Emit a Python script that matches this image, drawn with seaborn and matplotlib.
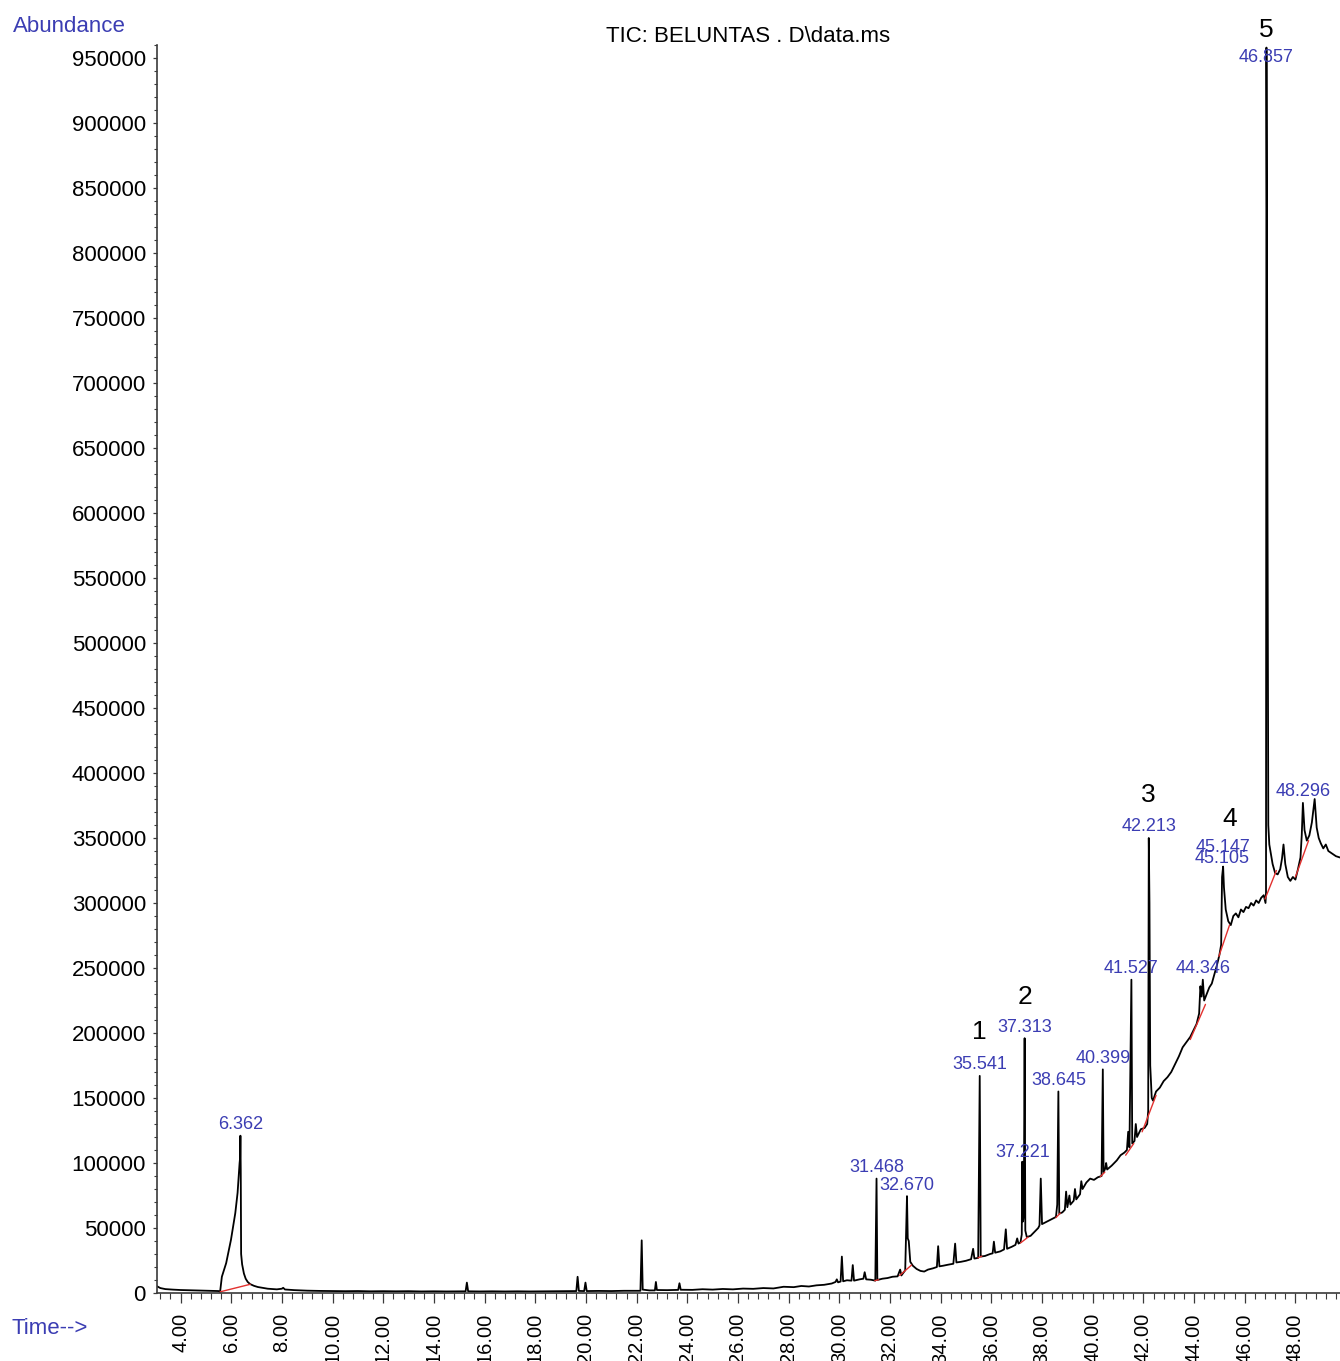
import numpy as np
import pandas as pd
import matplotlib
matplotlib.use("Agg")
import matplotlib.pyplot as plt
from matplotlib.ticker import MultipleLocator, FixedLocator
import seaborn as sns

# ---------------- data, (time min, abundance) ----------------
trace_early = [
    (3.07, 5200), (3.2, 3800), (3.4, 3000), (3.7, 2600), (4.0, 2300), (4.4, 2100),
    (4.8, 1900), (5.2, 1700), (5.5, 1500), (5.56, 900), (5.63, 12500), (5.8, 23000),
    (5.99, 41000), (6.16, 61500), (6.25, 77000), (6.33, 100000), (6.35, 104000),
    (6.362, 121000), (6.375, 95000), (6.39, 30000), (6.43, 22000), (6.5, 15000),
    (6.57, 11000), (6.65, 8500), (6.75, 6800), (6.9, 5500), (7.05, 4600), (7.44, 3300),
    (7.8, 2800), (8.0, 3300), (8.05, 4000), (8.12, 2700), (8.5, 2200), (9.0, 1800),
]
trace_mid = [
    (9.5, 1600), (10.0, 1500), (10.5, 1400), (11.0, 1500), (11.5, 1300), (12.0, 1400),
    (12.5, 1300), (13.0, 1400), (13.5, 1200), (14.0, 1300), (14.5, 1200), (15.0, 1300),
    (15.25, 1300), (15.3, 8000), (15.35, 1300), (15.8, 1200), (16.3, 1300), (16.8, 1200),
    (17.3, 1300), (17.8, 1200), (18.3, 1300), (18.8, 1400), (19.2, 1500), (19.62, 1500),
    (19.67, 12500), (19.72, 1600), (19.93, 1500), (19.98, 8000), (20.03, 1500),
    (20.5, 1600), (21.0, 1500), (21.5, 1700), (22.0, 1700), (22.15, 1700), (22.2, 40500),
    (22.24, 2600), (22.5, 2000), (22.72, 2000), (22.76, 8500), (22.8, 2300), (23.2, 2200),
    (23.64, 2400), (23.69, 7500), (23.74, 2500), (24.2, 2400), (24.6, 2900), (25.0, 2600),
    (25.4, 3100), (25.8, 2800), (26.2, 3400), (26.6, 3200), (27.0, 3800), (27.4, 3500),
    (27.8, 4800),
]
trace_late1 = [
    (28.2, 4500), (28.5, 5400), (28.8, 5000), (29.1, 5900), (29.4, 6300), (29.7, 7300),
    (29.85, 8500), (29.9, 10500), (29.95, 8200), (30.05, 8800), (30.1, 28000),
    (30.15, 9000), (30.3, 9800), (30.48, 9500), (30.53, 21500), (30.58, 9500),
    (30.8, 10500), (30.95, 11000), (31.0, 16000), (31.06, 10500), (31.25, 10200),
    (31.42, 9500), (31.468, 88000), (31.5, 10000), (31.7, 11000), (31.9, 11500),
    (32.1, 12500), (32.3, 12800), (32.4, 18000), (32.45, 13500), (32.6, 17500),
    (32.67, 74500), (32.7, 42000), (32.74, 40000), (32.8, 24000), (32.9, 21000),
    (33.05, 18500), (33.2, 17000), (33.35, 16500), (33.5, 18000), (33.7, 19000),
    (33.85, 20000), (33.9, 36000), (33.95, 20500), (34.1, 21000), (34.3, 21800),
    (34.5, 22500), (34.57, 38000), (34.62, 23500), (34.8, 24000), (35.0, 24800),
    (35.2, 26000), (35.28, 34000), (35.33, 26500), (35.48, 27000), (35.541, 167000),
    (35.58, 28000), (35.75, 28500), (35.95, 30000), (36.05, 30500), (36.1, 39500),
    (36.15, 31000), (36.35, 32000), (36.5, 33500), (36.57, 49000), (36.62, 34000),
    (36.8, 35500), (36.95, 37000), (37.02, 42000), (37.07, 38000), (37.15, 39000),
    (37.2, 45000), (37.221, 101000), (37.25, 55000), (37.28, 60000), (37.313, 196000),
    (37.34, 48000), (37.4, 43000),
]
trace_late2 = [
    (37.55, 44000), (37.7, 47000), (37.85, 50000), (37.9, 52000), (37.95, 88000),
    (38.0, 53000), (38.2, 55000), (38.4, 57000), (38.55, 58500), (38.6, 68000),
    (38.645, 155000), (38.68, 61000), (38.8, 62000), (38.9, 64000), (38.95, 78000),
    (39.0, 66000), (39.08, 75000), (39.12, 68000), (39.25, 71000), (39.3, 80000),
    (39.35, 72000), (39.5, 76000), (39.55, 86000), (39.6, 80000), (39.75, 85000),
    (39.9, 88000), (40.05, 87000), (40.2, 89000), (40.35, 90000), (40.399, 172000),
    (40.43, 93000), (40.5, 96000), (40.53, 100000), (40.57, 95000), (40.75, 98000),
    (40.95, 102000), (41.1, 106000), (41.25, 108000), (41.35, 110000), (41.4, 124000),
    (41.45, 112000), (41.527, 241000), (41.56, 115000), (41.65, 117000), (41.7, 130000),
    (41.75, 120000), (41.9, 126000), (42.05, 127000), (42.15, 130000), (42.19, 140000),
    (42.213, 350000), (42.24, 300000), (42.27, 175000), (42.33, 150000), (42.38, 148000),
]
trace_late3 = [
    (42.5, 155000), (42.65, 158000), (42.8, 163000), (42.95, 166000), (43.1, 170000),
    (43.25, 176000), (43.4, 182000), (43.55, 189000), (43.7, 193000), (43.85, 197000),
    (44.0, 203000), (44.1, 207000), (44.2, 215000), (44.25, 236000), (44.3, 228000),
    (44.346, 241000), (44.4, 225000), (44.5, 230000), (44.6, 235000), (44.7, 238000),
    (44.8, 245000), (44.9, 252000), (45.0, 260000), (45.07, 268000), (45.105, 320000),
    (45.147, 328000), (45.18, 312000), (45.25, 295000), (45.35, 286000), (45.45, 283000),
    (45.55, 290000), (45.65, 292000), (45.75, 289000), (45.85, 295000), (45.95, 293000),
    (46.05, 297000), (46.15, 296000), (46.25, 300000), (46.35, 298000), (46.45, 302000),
    (46.55, 300000), (46.65, 304000), (46.75, 306000), (46.82, 300000), (46.84, 308000),
    (46.857, 958000), (46.88, 800000), (46.9, 600000), (46.93, 360000), (46.97, 345000),
    (47.03, 338000), (47.1, 330000), (47.2, 323000), (47.3, 322000), (47.4, 326000),
    (47.47, 334000), (47.53, 345000), (47.6, 330000), (47.7, 320000), (47.8, 317000),
    (47.9, 320000), (48.0, 318000), (48.1, 326000), (48.2, 335000), (48.25, 352000),
    (48.296, 377000), (48.36, 356000), (48.45, 348000), (48.55, 352000), (48.65, 362000),
    (48.76, 380000), (48.84, 358000), (48.92, 350000), (49.0, 346000), (49.1, 342000),
    (49.2, 345000), (49.3, 340000), (49.45, 338000), (49.6, 336000), (49.76, 335000),
]

# integration baselines (red) under the labelled peaks: (t0, a0, t1, a1)
red_baselines = [
    (5.56, 900, 6.75, 6700), (31.40, 9500, 31.55, 10200), (32.38, 13500, 32.85, 21500),
    (35.47, 27000, 35.62, 28300), (37.15, 38500, 37.45, 43000), (38.55, 58000, 38.72, 61500),
    (40.30, 89500, 40.48, 93000), (41.30, 106000, 41.62, 115000),
    (41.95, 124000, 42.50, 152000), (43.85, 195000, 44.45, 222000),
    (44.98, 259000, 45.40, 283000), (46.80, 303000, 47.25, 325000),
    (48.00, 320000, 48.52, 348000),
]

# retention-time labels and apex heights
peak_labels = ["6.362", "31.468", "32.670", "35.541", "37.221", "37.313", "38.645", "40.399",
               "41.527", "42.213", "44.346", "45.105", "45.147", "46.857", "48.296"]
peak_apex = [121000, 88000, 74500, 167000, 101000, 196000, 155000, 172000,
             241000, 350000, 241000, 320000, 328000, 958000, 377000]

# compound numbers
compound_numbers = ["1", "2", "3", "4", "5"]
compound_rt = [35.541, 37.313, 42.213, 45.147, 46.857]
compound_apex = [167000, 196000, 350000, 328000, 958000]

x_ticks = [4, 6, 8, 10, 12, 14, 16, 18, 20, 22, 24, 26, 28, 30, 32, 34, 36, 38, 40, 42, 44, 46, 48]
x_tick_labels = ["4.00", "6.00", "8.00", "10.00", "12.00", "14.00", "16.00", "18.00", "20.00",
                 "22.00", "24.00", "26.00", "28.00", "30.00", "32.00", "34.00", "36.00",
                 "38.00", "40.00", "42.00", "44.00", "46.00", "48.00"]
y_ticks = [0, 50000, 100000, 150000, 200000, 250000, 300000, 350000, 400000, 450000, 500000,
           550000, 600000, 650000, 700000, 750000, 800000, 850000, 900000, 950000]
y_tick_labels = [str(v) for v in y_ticks]

TITLE = "TIC: BELUNTAS . D\\data.ms"

# ---------------- drawing ----------------
sns.set_style("white")
plt.rcParams["font.family"] = ["Liberation Sans", "DejaVu Sans"]
plt.rcParams["text.color"] = "black"

BLUE = "#3b3db3"
AXC = "#3a3a3a"

W, H = 1340, 1361
fig = plt.figure(figsize=(W / 100, H / 100), dpi=100)
ax = fig.add_axes([157 / W, (H - 1293) / H, (W - 157) / W, (1293 - 45) / H])

pts = trace_early + trace_mid + trace_late1 + trace_late2 + trace_late3
trace = pd.DataFrame(pts, columns=["time", "abundance"])
sns.lineplot(data=trace, x="time", y="abundance", color="black", linewidth=1.3,
             estimator=None, sort=False, ax=ax)

red_rows = []
for i, (t0, a0, t1, a1) in enumerate(red_baselines):
    red_rows.append((t0, a0, i))
    red_rows.append((t1, a1, i))
red = pd.DataFrame(red_rows, columns=["time", "abundance", "seg"])
sns.lineplot(data=red, x="time", y="abundance", units="seg", estimator=None,
             color="#e2312f", linewidth=1.0, ax=ax)

ax.set_xlim(3.07, 49.76)
ax.set_ylim(0, 960000)

# peak retention-time labels (45.105 / 45.147 overlap in the original print)
special_offsets = {"45.147": 14.0, "45.105": 13.0, "37.221": 6.5}
for lab, apex in zip(peak_labels, peak_apex):
    rt = float(lab)
    yy = min(apex, 942000)
    dy = special_offsets.get(lab, 8.0)
    ax.annotate(lab, xy=(rt, yy), xytext=(0, dy), textcoords="offset points",
                ha="center", va="center", fontsize=13, color=BLUE,
                annotation_clip=False)

# compound numbers
num_dx = {"4": 5.0}
num_dy = {"1": 31.5, "2": 29.5, "3": 31.0, "4": 34.5, "5": 27.5}
for num, rt, apex in zip(compound_numbers, compound_rt, compound_apex):
    yy = min(apex, 942000)
    ax.annotate(num, xy=(rt, yy), xytext=(num_dx.get(num, 0), num_dy[num]),
                textcoords="offset points", ha="center", va="center",
                fontsize=19, color="black", annotation_clip=False)

# axes styling
for s in ["top", "right"]:
    ax.spines[s].set_visible(False)
for s in ["left", "bottom"]:
    ax.spines[s].set_color(AXC)
    ax.spines[s].set_linewidth(1.2)

ax.xaxis.set_major_locator(FixedLocator(x_ticks))
ax.set_xticklabels(x_tick_labels, rotation=90, fontsize=14.5)
ax.xaxis.set_minor_locator(MultipleLocator(0.4))
ax.yaxis.set_major_locator(FixedLocator(y_ticks))
ax.set_yticklabels(y_tick_labels, fontsize=16)
ax.yaxis.set_minor_locator(MultipleLocator(10000))

ax.tick_params(axis="x", which="major", direction="out", length=7.5, width=0.9,
               color=AXC, labelcolor="black", pad=7, bottom=True)
ax.tick_params(axis="x", which="minor", direction="out", length=4.5, width=0.8,
               color=AXC, bottom=True)
ax.tick_params(axis="y", which="major", direction="out", length=3, width=0.9,
               color=AXC, labelcolor="black", pad=5, left=True)
ax.tick_params(axis="y", which="minor", direction="out", length=2.2, width=0.8,
               color=AXC, left=True)

ax.set_xlabel("")
ax.set_ylabel("")
ax.grid(False)

ax.annotate(TITLE, xy=(0.5, 1.0), xycoords="axes fraction", xytext=(0, 2.5),
            textcoords="offset points", ha="center", va="baseline", fontsize=16,
            color="black")
fig.text(13 / W, 1 - 27 / H, "Abundance", ha="left", va="center", fontsize=16, color=BLUE)
fig.text(12 / W, 1 - 1328 / H, "Time-->", ha="left", va="center", fontsize=16, color=BLUE)

fig.savefig("out.png", dpi=100)
